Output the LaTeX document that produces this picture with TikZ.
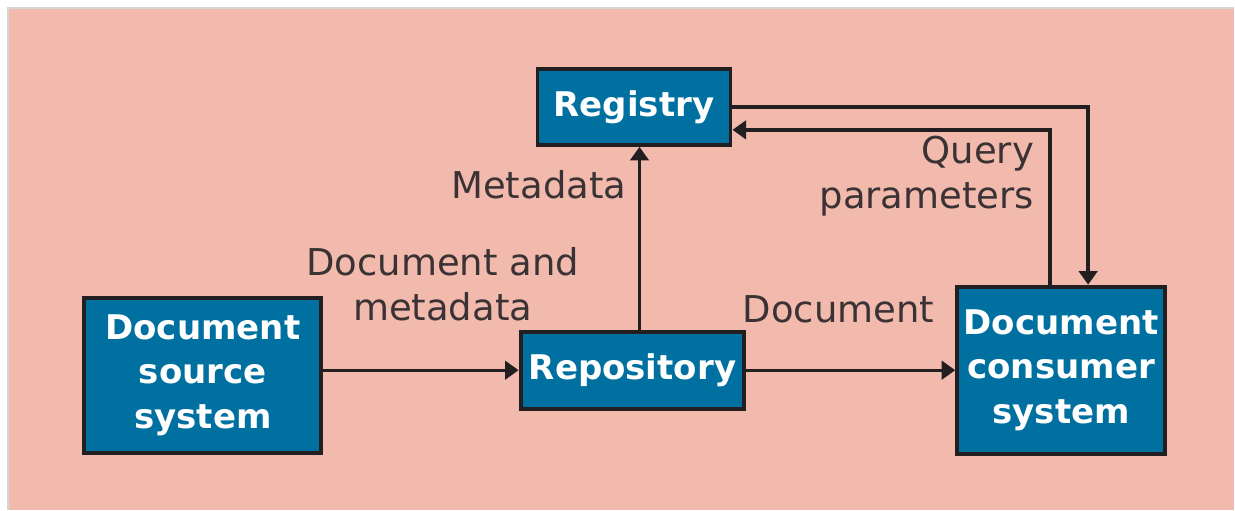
\documentclass[tikz,border=0pt]{standalone}
\usepackage{fontspec}
\setmainfont{DejaVu Sans}
\usetikzlibrary{arrows.meta,positioning}
\definecolor{bgsalmon}{RGB}{242,186,172}
\definecolor{boxblue}{RGB}{0,112,160}
\definecolor{edgeblack}{RGB}{35,31,32}
\definecolor{labelgray}{RGB}{58,50,52}
\definecolor{rimgray}{RGB}{214,214,214}
\tikzstyle{block} = [draw=edgeblack, line width=2.8pt, fill=boxblue, text=white, align=center, font=\bfseries\fontsize{24.2}{31.6}\selectfont, inner sep=0pt]
\tikzstyle{lbl} = [text=labelgray, font=\fontsize{26.3}{32.5}\selectfont, inner sep=0pt]
\tikzstyle{link} = [draw=edgeblack, line width=2.4pt]

\begin{document}
\begin{tikzpicture}[auto, node distance=10.75cm, >={Triangle[length=0.34cm,width=0.46cm]}]

% canvas
\fill[white] (0,0) rectangle (30.875,12.75);
\fill[bgsalmon] (0.225,0) rectangle (30.875,12.525);
\draw[rimgray, line width=1.4pt] (0.2,0) -- (0.2,12.55) -- (30.875,12.55);
\useasboundingbox (0,0) rectangle (30.875,12.75);

\node [block, minimum width=5.6cm, minimum height=1.93cm] (repo) at (15.825,3.4875) {Repository};
\node [block, minimum width=5.93cm, minimum height=3.88cm, left of=repo, yshift=-0.125cm] (source) {Document\\source\\system};
\node [block, minimum width=4.83cm, minimum height=1.9cm, above of=repo, node distance=6.5875cm, xshift=0.0375cm] (registry) {Registry};
\node [block, minimum width=5.2cm, minimum height=4.18cm, right of=repo, node distance=10.725cm] (consumer) {Document\\consumer\\system};

% labels (base = last line)
\node [lbl, anchor=base east] (metalabel) at (15.675,7.775) {Metadata};
\node [lbl, align=center, anchor=base] (doclabel) at (11.075,4.725) {Document and\\metadata};
\node [lbl, anchor=base] (sendlabel) at (20.975,4.675) {Document};
\node [lbl, align=right, anchor=base east] (querylabel) at (25.875,7.525) {Query\\parameters};

\draw [link, ->] (source.east |- repo.west) -- (repo.west);
\draw [link, ->] (repo) -- (consumer);
\draw [link, ->] ([xshift=0.175cm]repo.north) -- ([xshift=0.175cm]repo.north |- registry.south);
\draw [link, ->] (registry.east) -| ([xshift=0.675cm]consumer.north);
\draw [link, ->] ([xshift=-0.275cm]consumer.north) |- ([yshift=-0.575cm]registry.east);
\end{tikzpicture}
\end{document}
